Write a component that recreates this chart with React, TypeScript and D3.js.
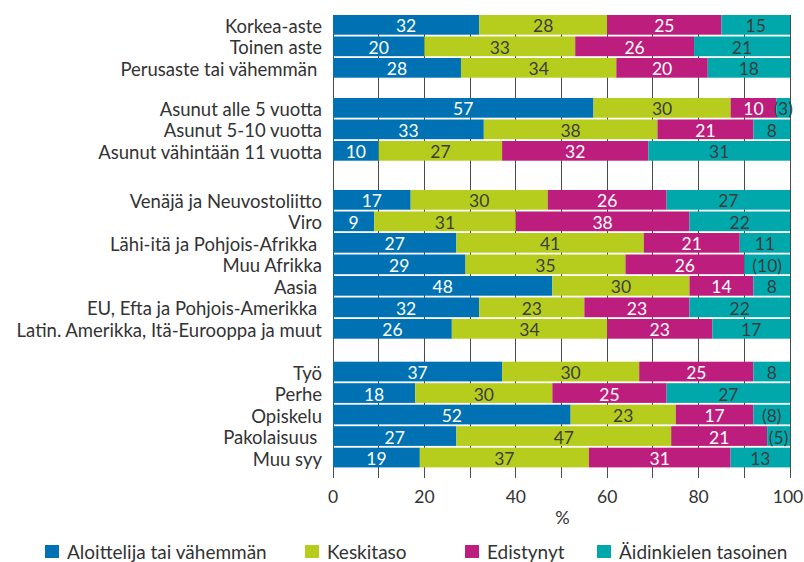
import React from 'react';
import * as d3 from 'd3';

const categories = [
  'Korkea-aste',
  'Toinen aste',
  'Perusaste tai vähemmän ',
  'Asunut alle 5 vuotta',
  'Asunut 5-10 vuotta',
  'Asunut vähintään 11 vuotta',
  'Venäjä ja Neuvostoliitto',
  'Viro',
  'Lähi-itä ja Pohjois-Afrikka ',
  'Muu Afrikka',
  'Aasia ',
  'EU, Efta ja Pohjois-Amerikka ',
  'Latin. Amerikka, Itä-Eurooppa ja muut',
  'Työ',
  'Perhe',
  'Opiskelu',
  'Pakolaisuus ',
  'Muu syy',
];
const groupSizes = [3, 3, 7, 5];
const seriesNames = ['Aloittelija tai vähemmän', 'Keskitaso', 'Edistynyt', 'Äidinkielen tasoinen'];
const aloittelija = [32, 20, 28, 57, 33, 10, 17, 9, 27, 29, 48, 32, 26, 37, 18, 52, 27, 19];
const keskitaso = [28, 33, 34, 30, 38, 27, 30, 31, 41, 35, 30, 23, 34, 30, 30, 23, 47, 37];
const edistynyt = [25, 26, 20, 10, 21, 32, 26, 38, 21, 26, 14, 23, 23, 25, 25, 17, 21, 31];
const aidinkieli = [15, 21, 18, 3, 8, 31, 27, 22, 11, 10, 8, 22, 17, 8, 27, 8, 5, 13];
const aidinkieliBracketed = [false, false, false, true, false, false, false, false, false, true, false, false, false, false, false, true, true, false];
const xTicks = [0, 20, 40, 60, 80, 100];
const gridValues = d3.range(0, 101, 10);
const axisTitle = '%';

// layout / style
const W = 804;
const H = 562;
const X0 = 333;
const X1 = 790;
const TOP = 15;
const STEP = 21.5;
const BAR_H = 19.7;
const GROUP_GAPS = [0, 18.5, 27.5, 21.2];
const GRID_BOTTOM = 478;
const COLORS = ['#0072B4', '#B6CD1E', '#BD1E7D', '#00A8AC'];
const TEXT_ON = ['#ffffff', '#3d3d3d', '#ffffff', '#3d3d3d'];
const LABEL_FONT = 'Lato, "Open Sans", sans-serif';
const VALUE_FONT = '"Liberation Sans Narrow", Lato, sans-serif';
const LEGEND_X = [45, 305, 465, 597];

export default function App() {
  const x = d3.scaleLinear().domain([0, 100]).range([X0, X1]);
  const slotToY = d3.scaleLinear().domain([0, 1]).range([TOP, TOP + STEP]);

  // slot index of each row including group gaps
  const slots: number[] = [];
  let idx = 0;
  let gapAcc = 0;
  groupSizes.forEach((n, g) => {
    gapAcc += GROUP_GAPS[g];
    for (let k = 0; k < n; k++) {
      slots.push(idx + gapAcc / STEP);
      idx++;
    }
  });

  const table = categories.map((c, i) => ({
    cat: c,
    values: [aloittelija[i], keskitaso[i], edistynyt[i], aidinkieli[i]],
  }));
  const stack = d3
    .stack<any>()
    .keys([0, 1, 2, 3] as any)
    .value((d: any, k: any) => d.values[k])(table as any);

  return (
    <svg
      width={W}
      height={H}
      style={{ position: 'absolute', left: 0, top: 0, background: '#fff' }}
    >
      {/* grid */}
      <g>
        {gridValues.map((v) => (
          <line
            key={v}
            x1={x(v)}
            x2={x(v)}
            y1={TOP}
            y2={GRID_BOTTOM}
            stroke="#4a4a4a"
            strokeWidth={1}
            shapeRendering="crispEdges"
          />
        ))}
      </g>
      {/* bars */}
      {stack.map((layer: any, s: number) => (
        <g key={s}>
          {layer.map((d: any, i: number) => {
            const y = slotToY(slots[i]);
            const xa = x(d[0]);
            const xb = x(d[1]);
            const v = d[1] - d[0];
            const label = s === 3 && aidinkieliBracketed[i] ? `(${v})` : `${v}`;
            const cx = (xa + xb) / 2;
            const cy = y + BAR_H / 2 + 1;
            return (
              <g key={i}>
                <rect x={xa} y={y} width={xb - xa} height={BAR_H} fill={COLORS[s]} />
                <text
                  x={cx}
                  y={cy}
                  textAnchor="middle"
                  dominantBaseline="central"
                  fontFamily={VALUE_FONT}
                  fontSize={17.5}
                  fill={TEXT_ON[s]}
                >
                  {label}
                </text>
              </g>
            );
          })}
        </g>
      ))}
      {/* category labels */}
      {categories.map((c, i) => (
        <text
          key={c}
          x={322}
          y={slotToY(slots[i]) + BAR_H / 2 + 1}
          textAnchor="end"
          dominantBaseline="central"
          fontFamily={LABEL_FONT}
          fontSize={18.5}
          fill="#333"
          style={{ whiteSpace: 'pre' }}
        >
          {c}
        </text>
      ))}
      {/* x tick labels */}
      {xTicks.map((t) => (
        <text
          key={t}
          x={Math.min(x(t), W - 16)}
          y={503}
          textAnchor="middle"
          fontFamily={LABEL_FONT}
          fontSize={17.5}
          fill="#333"
        >
          {t}
        </text>
      ))}
      <text x={x(50) + 1} y={524} textAnchor="middle" fontFamily={LABEL_FONT} fontSize={18} fill="#333">
        {axisTitle}
      </text>
      {/* legend */}
      {seriesNames.map((n, s) => (
        <g key={n}>
          <rect x={LEGEND_X[s]} y={545} width={14} height={13} fill={COLORS[s]} />
          <text x={LEGEND_X[s] + 22} y={558.5} fontFamily={LABEL_FONT} fontSize={19} fill="#333">
            {n}
          </text>
        </g>
      ))}
    </svg>
  );
}
